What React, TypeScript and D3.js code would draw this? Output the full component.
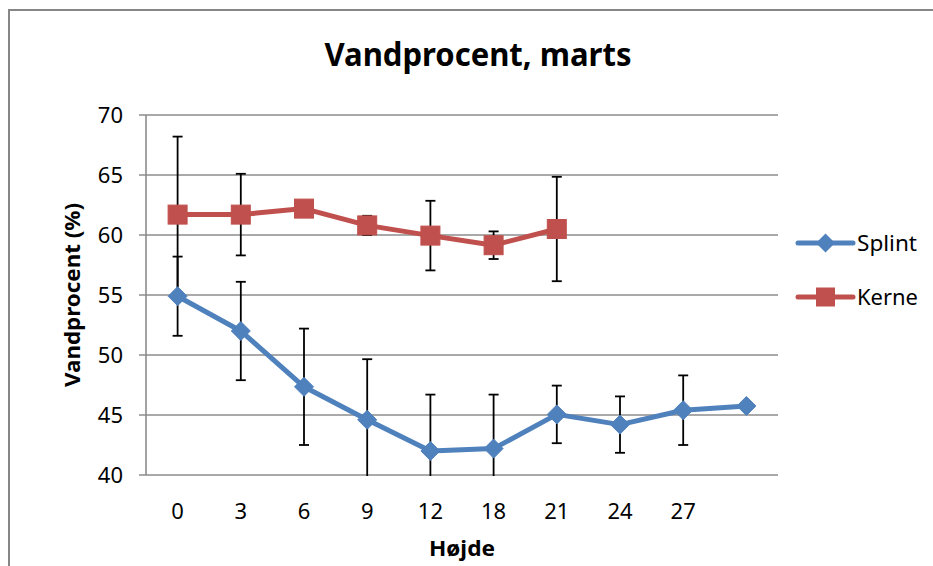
import React from "react";
import * as d3 from "d3";

const categories = ["0", "3", "6", "9", "12", "18", "21", "24", "27", ""];
const splint = [54.9, 52.0, 47.35, 44.6, 42.0, 42.2, 45.05, 44.2, 45.4, 45.75];
const splintErr = [3.3, 4.1, 4.85, 5.05, 4.7, 4.5, 2.4, 2.35, 2.9, null];
const kerne = [61.7, 61.7, 62.2, 60.8, 59.95, 59.15, 60.5, null, null, null];
const kerneErr = [6.5, 3.4, null, 0.8, 2.9, 1.15, 4.35, null, null, null];
const yTicks = [40, 45, 50, 55, 60, 65, 70];

const BLUE = "#4F81BD";
const RED = "#C0504D";
const GRID = "#8c8c8c";
const FONT = "'Noto Sans', 'Open Sans', sans-serif";

export default function App() {
  const W = 933, H = 566;
  const left = 146, right = 778, top = 115, bottom = 475;
  const x = d3.scaleBand().domain(categories.map((c, i) => String(i))).range([left, right]);
  const cx = (i: number) => (x(String(i)) as number) + x.bandwidth() / 2;
  const y = d3.scaleLinear().domain([40, 70]).range([bottom, top]);

  const line = d3
    .line<number | null>()
    .defined((d) => d != null)
    .x((_, i) => cx(i))
    .y((d) => y(d as number));

  const diamond = (px: number, py: number, r: number) =>
    `M${px},${py - r}L${px + r},${py}L${px},${py + r}L${px - r},${py}Z`;

  const errBars = (vals: (number | null)[], errs: (number | null)[], key: string) =>
    vals.map((v, i) => {
      const e = errs[i];
      if (v == null || e == null) return null;
      const px = cx(i);
      const y1 = y(v + e);
      const y2 = y(v - e);
      return (
        <g key={key + i} stroke="#000" strokeWidth={1.8}>
          <line x1={px} x2={px} y1={y1} y2={y2} />
          <line x1={px - 5} x2={px + 5} y1={y1} y2={y1} />
          <line x1={px - 5} x2={px + 5} y1={y2} y2={y2} />
        </g>
      );
    });

  return (
    <svg width={W} height={H} style={{ position: "absolute", left: 0, top: 0, background: "#fff" }}>
      <defs>
        <clipPath id="plotclip">
          <rect x={left} y={top - 2} width={right - left} height={bottom - top + 3} />
        </clipPath>
      </defs>
      <rect x={0} y={0} width={W} height={H} fill="#fff" />
      <path d={`M9,${H}L9,10L${W},10`} fill="none" stroke="#868686" strokeWidth={2} />

      <text x={478} y={66} textAnchor="middle" fontFamily={FONT} fontWeight="bold" fontSize={32} textLength={307} lengthAdjust="spacingAndGlyphs">
        Vandprocent, marts
      </text>

      {yTicks.map((t) => (
        <line key={t} x1={left - 7} x2={right} y1={y(t)} y2={y(t)} stroke={GRID} strokeWidth={1.6} />
      ))}
      <line x1={left} x2={left} y1={top} y2={bottom} stroke={GRID} strokeWidth={1.6} />

      {yTicks.map((t) => (
        <text key={"l" + t} x={123} y={y(t) + 8} textAnchor="end" fontFamily={FONT} fontSize={22} fill="#000">
          {t}
        </text>
      ))}
      {categories.map((c, i) => (
        <text key={"x" + i} x={cx(i)} y={519} textAnchor="middle" fontFamily={FONT} fontSize={22} fill="#000">
          {c}
        </text>
      ))}

      <text x={462} y={556} textAnchor="middle" fontFamily={FONT} fontWeight="bold" fontSize={21} textLength={66} lengthAdjust="spacingAndGlyphs">
        Højde
      </text>
      <text transform={`translate(80,295) rotate(-90)`} textAnchor="middle" fontFamily={FONT} fontWeight="bold" fontSize={21} textLength={184} lengthAdjust="spacingAndGlyphs">
        Vandprocent (%)
      </text>

      <g clipPath="url(#plotclip)">
        {errBars(splint, splintErr, "s")}
        {errBars(kerne, kerneErr, "k")}
      </g>

      <path d={line(splint) as string} fill="none" stroke={BLUE} strokeWidth={5} strokeLinejoin="round" />
      <path d={line(kerne) as string} fill="none" stroke={RED} strokeWidth={5} strokeLinejoin="round" />

      {splint.map((v, i) => (v == null ? null : <path key={"sm" + i} d={diamond(cx(i), y(v), 9.5)} fill={BLUE} stroke={BLUE} strokeWidth={1} />))}
      {kerne.map((v, i) =>
        v == null ? null : <rect key={"km" + i} x={cx(i) - 9.5} y={y(v) - 9.5} width={19} height={19} fill={RED} stroke={RED} strokeWidth={1} />
      )}

      <g>
        <line x1={798} x2={853} y1={243} y2={243} stroke={BLUE} strokeWidth={5} strokeLinecap="round" />
        <path d={diamond(825.5, 243, 9.5)} fill={BLUE} />
        <text x={857} y={251} fontFamily={FONT} fontSize={22} fill="#000" textLength={60} lengthAdjust="spacingAndGlyphs">Splint</text>
        <line x1={798} x2={853} y1={297} y2={297} stroke={RED} strokeWidth={5} strokeLinecap="round" />
        <rect x={816} y={287.5} width={19} height={19} fill={RED} />
        <text x={857} y={305} fontFamily={FONT} fontSize={22} fill="#000" textLength={61} lengthAdjust="spacingAndGlyphs">Kerne</text>
      </g>
    </svg>
  );
}
